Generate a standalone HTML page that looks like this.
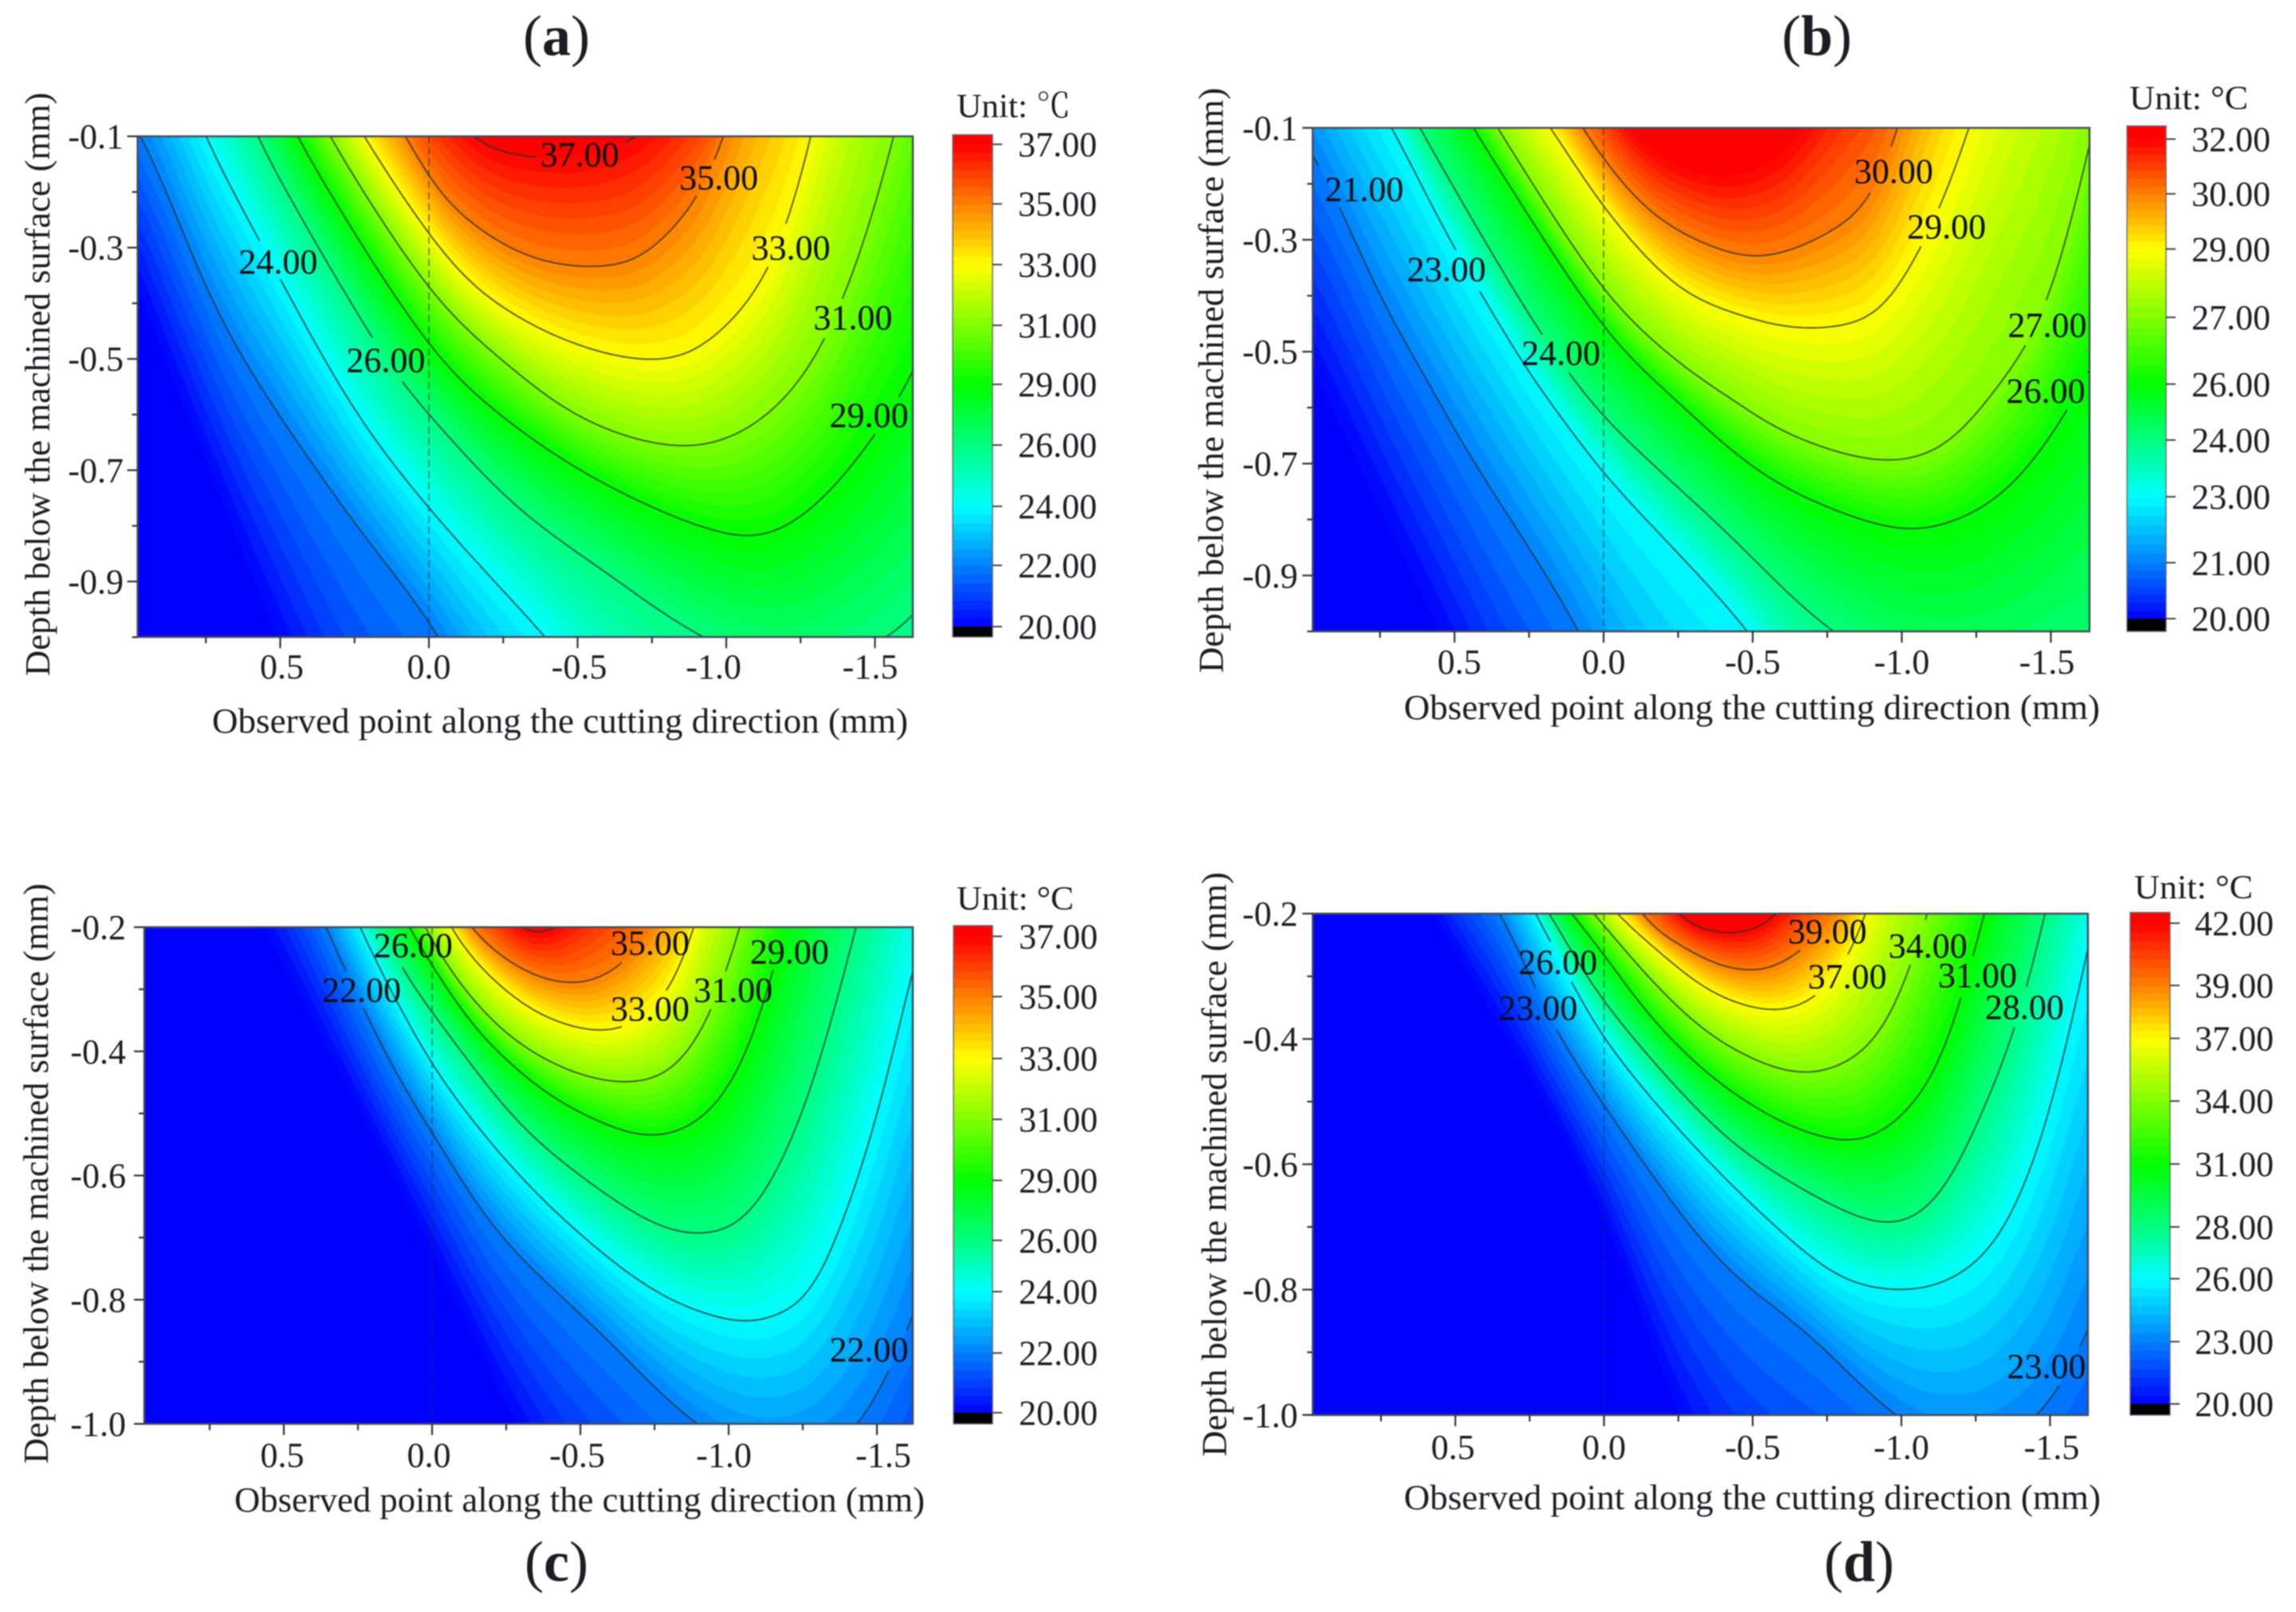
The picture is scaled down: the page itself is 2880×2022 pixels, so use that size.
<!DOCTYPE html>
<html lang="en">
<head>
<meta charset="utf-8">
<title>Temperature contour maps below the machined surface</title>
<style>
html,body{margin:0;padding:0;background:#fff;}
svg{display:block;filter:blur(0.7px);}
text{font-family:"Liberation Serif","Noto Serif CJK SC",serif;fill:#1c1c22;}
</style>
</head>
<body>
<svg id="chart" xmlns="http://www.w3.org/2000/svg" width="2880" height="2022" viewBox="0 0 2880 2022">
  <rect x="0" y="0" width="2880" height="2022" fill="#fff"/>
  <g id="plots"></g>

  <text x="698" y="69" font-size="72" text-anchor="middle">(<tspan font-weight="bold">a</tspan>)</text>
  <text x="2279" y="69" font-size="72" text-anchor="middle">(<tspan font-weight="bold">b</tspan>)</text>
  <text x="698" y="1983" font-size="72" text-anchor="middle">(<tspan font-weight="bold">c</tspan>)</text>
  <text x="2332" y="1983" font-size="72" text-anchor="middle">(<tspan font-weight="bold">d</tspan>)</text>

  <text x="266" y="919" font-size="44" textLength="873" lengthAdjust="spacingAndGlyphs">Observed point along the cutting direction (mm)</text>
  <text x="1761" y="902" font-size="44" textLength="873" lengthAdjust="spacingAndGlyphs">Observed point along the cutting direction (mm)</text>
  <text x="294" y="1896" font-size="44" textLength="866" lengthAdjust="spacingAndGlyphs">Observed point along the cutting direction (mm)</text>
  <text x="1761" y="1893" font-size="44" textLength="874" lengthAdjust="spacingAndGlyphs">Observed point along the cutting direction (mm)</text>

  <text transform="translate(62,848) rotate(-90)" font-size="44" textLength="732" lengthAdjust="spacingAndGlyphs">Depth below the machined surface (mm)</text>
  <text transform="translate(1534,844) rotate(-90)" font-size="44" textLength="734" lengthAdjust="spacingAndGlyphs">Depth below the machined surface (mm)</text>
  <text transform="translate(60,1836) rotate(-90)" font-size="44" textLength="728" lengthAdjust="spacingAndGlyphs">Depth below the machined surface (mm)</text>
  <text transform="translate(1538,1827) rotate(-90)" font-size="44" textLength="733" lengthAdjust="spacingAndGlyphs">Depth below the machined surface (mm)</text>

  <text x="1200" y="147" font-size="42" textLength="143" lengthAdjust="spacingAndGlyphs">Unit: ℃</text>
  <text x="2671" y="137" font-size="42" textLength="149" lengthAdjust="spacingAndGlyphs">Unit: °C</text>
  <text x="1200" y="1141" font-size="42" textLength="147" lengthAdjust="spacingAndGlyphs">Unit: °C</text>
  <text x="2677" y="1127" font-size="42" textLength="149" lengthAdjust="spacingAndGlyphs">Unit: °C</text>
</svg>

<script>
// ---- Contour data: [observed point (mm), depth (mm)], level 0 (pure blue edge) to level 8 (pure red edge)
const aK0=[[1.1,-.2],[.975,-.38],[.507,-1],[0,-1.6],[-1.7,-2.2]];
const aK1=[[1.02,-.05],[.938,-.127],[.704,-.425],[.335,-.732],[0,-.969],[-.034,-1],[-.5,-1.4],[-1,-1.7],[-1.7,-1.7]];
const aK2=[[.852,.03],[.754,-.1],[.581,-.276],[.261,-.583],[0,-.768],[-.392,-1],[-.8,-1.25],[-1.2,-1.35],[-1.7,-1.3]];
const aK3=[[.68,.03],[.581,-.1],[.145,-.502],[0,-.6],[-.281,-.759],[-.601,-.886],[-.921,-1],[-1.229,-1.057],[-1.549,-1],[-1.628,-.965],[-1.709,-.908]];
const aK4=[[.557,.03],[.446,-.1],[0,-.474],[-.281,-.618],[-.65,-.741],[-1.044,-.82],[-1.217,-.798],[-1.389,-.715],[-1.512,-.627],[-1.628,-.531],[-1.709,-.425]];
const aK5=[[.458,.03],[.335,-.1],[0,-.373],[-.232,-.496],[-.527,-.61],[-.872,-.658],[-1.118,-.61],[-1.315,-.487],[-1.463,-.294],[-1.567,-.1],[-1.623,.03]];
const aK6=[[.36,.03],[.219,-.1],[0,-.276],[-.158,-.373],[-.429,-.46],[-.724,-.502],[-.921,-.478],[-1.143,-.346],[-1.241,-.206],[-1.291,-.1],[-1.34,.03]];
const aK7=[[.2,.013],[.076,-.1],[0,-.18],[-.158,-.263],[-.355,-.32],[-.566,-.335],[-.724,-.316],[-.847,-.25],[-.946,-.18],[-1,-.1],[-1.057,.013]];
const aK8=[[-.04,-.04],[-.133,-.1],[-.232,-.127],[-.355,-.138],[-.5,-.138],[-.62,-.12],[-.72,-.1],[-.8,-.05]];

const bK0=[[1.2,-.3],[.98,-.526],[.55,-1],[0,-1.6],[-1.7,-2.2]];
const bK1=[[1.1,-.05],[.97,-.147],[.888,-.237],[.735,-.418],[.581,-.56],[.489,-.651],[.081,-1],[-.4,-1.5],[-1.7,-1.9]];
const bK2=[[.85,.03],[.709,-.1],[.5,-.318],[.428,-.38],[.264,-.527],[.09,-.655],[0,-.718],[-.485,-1],[-.9,-1.3],[-1.7,-1.4]];
const bK3=[[.75,.03],[.617,-.1],[.366,-.332],[.208,-.47],[.126,-.532],[0,-.617],[-.387,-.81],[-.768,-1],[-1.175,-1.11],[-1.63,-1.08]];
const bK4=[[.58,.03],[.438,-.1],[0,-.456],[-.237,-.584],[-.51,-.71],[-.756,-.779],[-1.039,-.819],[-1.273,-.779],[-1.42,-.71],[-1.557,-.605],[-1.63,-.535],[-1.717,-.44]];
const bK5=[[.5,.03],[.356,-.1],[0,-.389],[-.237,-.513],[-.442,-.589],[-.614,-.646],[-.929,-.695],[-1.15,-.666],[-1.347,-.544],[-1.495,-.413],[-1.63,-.133],[-1.667,-.046]];
const bK6=[[.35,.03],[.177,-.1],[0,-.242],[-.237,-.38],[-.442,-.432],[-.682,-.459],[-.929,-.43],[-1.027,-.352],[-1.15,-.22],[-1.229,-.1],[-1.298,.024]];
const bK7=[[.2,.02],[.075,-.1],[0,-.156],[-.135,-.242],[-.34,-.308],[-.547,-.331],[-.83,-.264],[-.929,-.203],[-.995,-.1],[-1.052,.024]];
const bK8=[[0,-.03],[-.067,-.1],[-.239,-.168],[-.411,-.19],[-.584,-.159],[-.682,-.1],[-.75,-.03]];

const cK0=[[.7,-.1],[.569,-.2],[0,-.72],[-.285,-1],[-.6,-1.25],[-1.1,-1.4],[-1.7,-1.3]];
const cK1=[[.434,-.115],[.36,-.2],[.3,-.26],[.234,-.329],[.113,-.444],[0,-.53],[-.207,-.684],[-.569,-.854],[-.891,-1],[-1.17,-1.06],[-1.448,-1],[-1.626,-.822],[-1.66,-.78]];
const cK2=[[.32,-.115],[.247,-.2],[.113,-.325],[0,-.423],[-.234,-.568],[-.474,-.684],[-.767,-.791],[-1.04,-.837],[-1.163,-.826],[-1.312,-.774],[-1.374,-.684],[-1.502,-.513],[-1.622,-.256],[-1.702,-.128]];
const cK3=[[.26,-.115],[.174,-.2],[.12,-.256],[0,-.337],[-.287,-.513],[-.567,-.624],[-.768,-.682],[-.912,-.695],[-1.075,-.663],[-1.235,-.521],[-1.342,-.363],[-1.429,-.2],[-1.475,-.115]];
const cK4=[[.167,-.115],[.084,-.2],[0,-.26],[-.127,-.354],[-.367,-.461],[-.581,-.517],[-.741,-.538],[-.901,-.513],[-1.035,-.436],[-1.128,-.32],[-1.155,-.269],[-1.188,-.2],[-1.235,-.115]];
const cK5=[[.113,-.115],[.027,-.2],[-.033,-.252],[-.207,-.354],[-.421,-.423],[-.654,-.451],[-.834,-.423],[-.955,-.329],[-1.001,-.269],[-1.041,-.2],[-1.088,-.115]];
const cK6=[[.033,-.106],[-.053,-.2],[-.207,-.286],[-.367,-.342],[-.561,-.369],[-.661,-.361],[-.728,-.342],[-.821,-.295],[-.854,-.256],[-.895,-.2],[-.941,-.106]];
const cK7=[[-.02,-.119],[-.127,-.203],[-.26,-.256],[-.367,-.283],[-.474,-.292],[-.581,-.282],[-.661,-.252],[-.714,-.226],[-.754,-.2],[-.834,-.119]];
const cK8=[[-.2,-.15],[-.26,-.2],[-.367,-.213],[-.447,-.2],[-.53,-.15]];

const dK0=[[.7,-.1],[.574,-.2],[0,-.68],[-.251,-1],[-.6,-1.25],[-1.7,-1.4]];
const dK1=[[.45,-.13],[.34,-.2],[.233,-.32],[.167,-.383],[0,-.506],[-.273,-.689],[-.436,-.776],[-.682,-.869],[-.978,-1],[-1.2,-1.05],[-1.47,-1],[-1.628,-.869],[-1.7,-.78]];
const dK2=[[.3,-.137],[.233,-.2],[.18,-.239],[.12,-.303],[0,-.4],[-.26,-.549],[-.553,-.689],[-.805,-.783],[-1.052,-.8],[-1.224,-.768],[-1.367,-.689],[-1.527,-.477],[-1.62,-.264],[-1.667,-.17]];
const dK3=[[.27,-.137],[.18,-.2],[.087,-.281],[0,-.341],[-.193,-.451],[-.42,-.561],[-.66,-.638],[-.86,-.686],[-.928,-.695],[-1.06,-.684],[-1.193,-.604],[-1.313,-.468],[-1.407,-.366],[-1.44,-.294],[-1.48,-.2],[-1.513,-.137]];
const dK4=[[.207,-.137],[.111,-.2],[0,-.264],[-.127,-.349],[-.327,-.447],[-.527,-.515],[-.68,-.549],[-.807,-.564],[-.9,-.558],[-1.007,-.523],[-1.14,-.434],[-1.213,-.328],[-1.273,-.2],[-1.313,-.137]];
const dK5=[[.153,-.137],[.033,-.2],[-.127,-.29],[-.327,-.383],[-.527,-.438],[-.68,-.456],[-.82,-.438],[-.927,-.396],[-.993,-.341],[-1.04,-.281],[-1.087,-.2],[-1.127,-.137]];
const dK6=[[.073,-.137],[-.04,-.2],[-.193,-.264],[-.353,-.324],[-.553,-.356],[-.66,-.349],[-.733,-.328],[-.827,-.273],[-.893,-.2],[-.927,-.137]];
const dK7=[[-.03,-.12],[-.107,-.2],[-.233,-.243],[-.353,-.277],[-.487,-.293],[-.593,-.284],[-.673,-.256],[-.74,-.226],[-.793,-.2],[-.86,-.12]];
const dK8=[[-.17,-.15],[-.22,-.2],[-.34,-.226],[-.433,-.235],[-.527,-.222],[-.607,-.2],[-.66,-.15]];

// ---- Contour labels: [text, level, observed point, depth]
const aContourLabels=[["37.00",8,-.507,-.132],["35.00",7,-.975,-.174],["33.00",6,-1.217,-.3],["31.00",5,-1.426,-.425],["29.00",4,-1.48,-.601],["24.00",2,.507,-.325],["26.00",3,.145,-.502]];
const bContourLabels=[["21.00",1,.803,-.209],["23.00",2,.527,-.352],["24.00",3,.143,-.502],["30.00",7,-.973,-.177],["29.00",6,-1.15,-.276],["27.00",5,-1.488,-.452],["26.00",4,-1.483,-.57]];
const cContourLabels=[["26.00",3,.064,-.229],["22.00",1,.238,-.301],["35.00",7,-.735,-.225],["29.00",4,-1.205,-.239],["31.00",5,-1.015,-.301],["33.00",6,-.735,-.331],["22.00",1,-1.473,-.88]];
const dContourLabels=[["39.00",7,-.751,-.228],["34.00",5,-1.089,-.251],["26.00",2,.155,-.277],["37.00",6,-.818,-.3],["31.00",4,-1.256,-.298],["23.00",1,.222,-.35],["28.00",3,-1.414,-.349],["23.00",1,-1.488,-.922]];

// ---- Axis ticks
const xMajorTicks=[.5,0,-.5,-1,-1.5];
const xMinorTicks=[.75,.25,-.25,-.75,-1.25];
const xTickLabels=["0.5","0.0","-0.5","-1.0","-1.5"];
const yMajorTicksTop1=[-.1,-.3,-.5,-.7,-.9];
const yMinorTicksTop1=[-.2,-.4,-.6,-.8,-1];
const yTickLabelsTop1=["-0.1","-0.3","-0.5","-0.7","-0.9"];
const yMajorTicksTop2=[-.2,-.4,-.6,-.8,-1];
const yMinorTicksTop2=[-.3,-.5,-.7,-.9];
const yTickLabelsTop2=["-0.2","-0.4","-0.6","-0.8","-1.0"];

// ---- Colorbar ticks (values, then printed labels)
const aBarValues=[20,22.16,24.24,26.4,28.54,30.62,32.76,34.9,37];
const aBarLabels=["20.00","22.00","24.00","26.00","29.00","31.00","33.00","35.00","37.00"];
const bBarValues=[20,21.4,23.05,24.47,25.87,27.54,29.25,30.63,32];
const bBarLabels=["20.00","21.00","23.00","24.00","26.00","27.00","29.00","30.00","32.00"];
const cBarValues=[20,22.13,24.32,26.15,28.29,30.47,32.64,34.85,37];
const cBarLabels=["20.00","22.00","24.00","26.00","29.00","31.00","33.00","35.00","37.00"];
const dBarValues=[20,22.85,25.73,28.1,30.98,33.86,36.73,39.15,42];
const dBarLabels=["20.00","23.00","26.00","28.00","31.00","34.00","37.00","39.00","42.00"];

// ---- Layout (not data)
const panels=[
 {id:"a",levels:[aK0,aK1,aK2,aK3,aK4,aK5,aK6,aK7,aK8],lineFrom:1,lineTo:8,labels:aContourLabels,
  x0:538,ux:373,yTopVal:-.1,yTop:171,uy:698,left:172.6,right:1145,bottom:799,xShift:[2,0,2,-16,-6],
  yMajor:yMajorTicksTop1,yMinor:yMinorTicksTop1,yLabels:yTickLabelsTop1,yLabelRight:155,xLabelBase:851,
  barL:1195,barR:1245,barTop:169,barBottom:799,barY20:786,barY1:181,barVals:aBarValues,barLabels:aBarLabels,barText:1277},
 {id:"b",levels:[bK0,bK1,bK2,bK3,bK4,bK5,bK6,bK7,bK8],lineFrom:1,lineTo:7,labels:bContourLabels,
  x0:2011.5,ux:374,yTopVal:-.1,yTop:160.4,uy:701.8,left:1646.6,right:2621,bottom:792,xShift:[6,0,0,0,-5],
  yMajor:yMajorTicksTop1,yMinor:yMinorTicksTop1,yLabels:yTickLabelsTop1,yLabelRight:1628,xLabelBase:845,
  barL:2668,barR:2717,barTop:158,barBottom:792,barY20:776,barY1:174.5,barVals:bBarValues,barLabels:bBarLabels,barText:2749},
 {id:"c",levels:[cK0,cK1,cK2,cK3,cK4,cK5,cK6,cK7,cK8],lineFrom:1,lineTo:8,labels:cContourLabels,
  x0:542,ux:372,yTopVal:-.2,yTop:1163,uy:778.75,left:181,right:1145,bottom:1786,xShift:[-2,-4,-4,-6,8],
  yMajor:yMajorTicksTop2,yMinor:yMinorTicksTop2,yLabels:yTickLabelsTop2,yLabelRight:158,xLabelBase:1840,
  barL:1196,barR:1245,barTop:1161,barBottom:1786,barY20:1772,barY1:1174.5,barVals:cBarValues,barLabels:cBarLabels,barText:1278},
 {id:"d",levels:[dK0,dK1,dK2,dK3,dK4,dK5,dK6,dK7,dK8],lineFrom:1,lineTo:8,labels:dContourLabels,
  x0:2012,ux:373,yTopVal:-.2,yTop:1146,uy:786,left:1646.6,right:2619,bottom:1775,xShift:[-3,0,0,0,2],
  yMajor:yMajorTicksTop2,yMinor:yMinorTicksTop2,yLabels:yTickLabelsTop2,yLabelRight:1628,xLabelBase:1830,
  barL:2672,barR:2722,barTop:1144.5,barBottom:1775,barY20:1761,barY1:1158,barVals:dBarValues,barLabels:dBarLabels,barText:2753}
];

const NS="http://www.w3.org/2000/svg";
const SUB=7;
const STEP=.01;
const SMOOTH=7;
const PAD=30;
function make(tag,attrs,parent){
  const el=document.createElementNS(NS,tag);
  for(const k in attrs){el.setAttribute(k,attrs[k]);}
  parent.appendChild(el);
  return el;
}
function jet(t){
  const s=[[0,0,0,255],[.25,0,255,255],[.5,0,255,0],[.75,255,255,0],[1,255,0,0]];
  t=Math.max(0,Math.min(1,t));
  for(let i=0;i<4;i++){
    if(t<=s[i+1][0]){
      const f=(t-s[i][0])/(s[i+1][0]-s[i][0]);
      const c=[1,2,3].map(j=>Math.round(s[i][j]+f*(s[i+1][j]-s[i][j])));
      return "rgb("+c.join(",")+")";
    }
  }
  return "rgb(255,0,0)";
}
function curveFn(pts){
  const us=pts.map(p=>-p[0]),ds=pts.map(p=>p[1]),n=pts.length,m=[];
  for(let i=0;i<n;i++){
    if(i===0){m.push((ds[1]-ds[0])/(us[1]-us[0]));}
    else if(i===n-1){m.push((ds[n-1]-ds[n-2])/(us[n-1]-us[n-2]));}
    else{m.push((ds[i+1]-ds[i-1])/(us[i+1]-us[i-1]));}
  }
  return function(x){
    const u=-x;
    let v;
    if(u<=us[0]){v=ds[0]+m[0]*(u-us[0]);}
    else if(u>=us[n-1]){v=ds[n-1]+m[n-1]*(u-us[n-1]);}
    else{
      let i=0;
      while(us[i+1]<u){i++;}
      const h=us[i+1]-us[i],s=(u-us[i])/h;
      const s2=s*s,s3=s2*s;
      v=(2*s3-3*s2+1)*ds[i]+(s3-2*s2+s)*h*m[i]+(-2*s3+3*s2)*ds[i+1]+(s3-s2)*h*m[i+1];
    }
    return Math.max(-4,Math.min(2,v));
  };
}
function boxSmooth(arr,r){
  const out=[];
  for(let i=0;i<arr.length;i++){
    const a=Math.max(0,i-r),b=Math.min(arr.length-1,i+r);
    let sum=0;
    for(let j=a;j<=b;j++){sum+=arr[j];}
    out.push(sum/(b-a+1));
  }
  return out;
}

const root=document.getElementById("plots");
const defs=make("defs",{},root);

panels.forEach(function(p){
  const sx=function(x){return p.x0-x*p.ux;};
  const sy=function(d){return p.yTop+(p.yTopVal-d)*p.uy;};
  const xLeft=(p.x0-p.left)/p.ux, xRight=(p.x0-p.right)/p.ux;
  const clip=make("clipPath",{id:"clip-"+p.id},defs);
  make("rect",{x:p.left,y:p.yTop,width:p.right-p.left,height:p.bottom-p.yTop},clip);

  const g=make("g",{},root);
  
  
  const plot=make("g",{"clip-path":"url(#clip-"+p.id+")"},g);
  
  

  const base=make("rect",{x:p.left,y:p.yTop,width:p.right-p.left,height:p.bottom-p.yTop,fill:"rgb(0,0,255)"},plot);
  
  

  const fns=p.levels.map(curveFn);
  // sample wider than the frame, smooth, then keep the visible range
  const wide=[];
  for(let x=xLeft+STEP+PAD*STEP;x>=xRight-STEP-PAD*STEP;x-=STEP){wide.push(x);}
  const xs=wide.slice(PAD,wide.length-PAD);
  const table=fns.map(function(f){
    const raw=wide.map(f);
    return boxSmooth(boxSmooth(raw,SMOOTH),SMOOTH).slice(PAD,wide.length-PAD);
  });

  // filled bands, painted from coolest to hottest
  for(let k=0;k<8;k++){
    for(let j=0;j<SUB;j++){
      const f=j/SUB;
      let dStr="M"+xs.map(function(x,i){
        const d=table[k][i]+f*(table[k+1][i]-table[k][i]);
        return sx(x).toFixed(1)+" "+sy(d).toFixed(1);
      }).join("L");
      dStr+="L"+(p.right+20)+" "+(p.yTop-3000)+"L"+(p.left-20)+" "+(p.yTop-3000)+"Z";
      const band=make("path",{d:dStr,fill:jet((k+(j+.5)/SUB)/8)},plot);
      
      
    }
  }
  const hot=make("path",{d:"M"+xs.map(function(x,i){return sx(x).toFixed(1)+" "+sy(table[8][i]).toFixed(1);}).join("L")+"L"+(p.right+20)+" "+(p.yTop-3000)+"L"+(p.left-20)+" "+(p.yTop-3000)+"Z",fill:"rgb(255,0,0)"},plot);
  
  

  // contour lines, broken where their own label sits
  for(let k=p.lineFrom;k<=p.lineTo;k++){
    const boxes=p.labels.filter(function(l){return l[1]===k;}).map(function(l){return [sx(l[2]),sy(l[3])];});
    let dStr="",pen=false;
    xs.forEach(function(x,i){
      const px=sx(x),py=sy(table[k][i]);
      const hidden=boxes.some(function(b){return Math.abs(px-b[0])<54&&Math.abs(py-b[1])<22;});
      if(hidden){pen=false;return;}
      dStr+=(pen?"L":"M")+px.toFixed(1)+" "+py.toFixed(1);
      pen=true;
    });
    const line=make("path",{d:dStr,fill:"none",stroke:"#24302c","stroke-width":1.8,"stroke-opacity":.8},plot);
    
    
  }

  // reference line at x = 0
  const zero=make("line",{x1:sx(0),x2:sx(0),y1:p.yTop,y2:p.bottom,stroke:"#1c2a3a","stroke-width":1.6,"stroke-opacity":.6,"stroke-dasharray":"9 5"},plot);
  
  

  // frame
  const frame=make("rect",{x:p.left,y:p.yTop,width:p.right-p.left,height:p.bottom-p.yTop,fill:"none",stroke:"#454a55","stroke-width":2.4},g);
  
  

  // x ticks
  xMajorTicks.forEach(function(v,i){
    const t=make("line",{x1:sx(v),x2:sx(v),y1:p.bottom,y2:p.bottom+14,stroke:"#333","stroke-width":2.2},g);
    
    
    const lab=make("text",{x:sx(v)+p.xShift[i],y:p.xLabelBase,"font-size":44,"text-anchor":"middle"},g);
    lab.textContent=xTickLabels[i];
    
    
  });
  xMinorTicks.forEach(function(v){
    const t=make("line",{x1:sx(v),x2:sx(v),y1:p.bottom,y2:p.bottom+8,stroke:"#333","stroke-width":2.2},g);
    
    
  });

  // y ticks
  p.yMajor.forEach(function(v,i){
    const t=make("line",{x1:p.left-13,x2:p.left,y1:sy(v),y2:sy(v),stroke:"#333","stroke-width":2.2},g);
    
    
    const lab=make("text",{x:p.yLabelRight,y:sy(v)+15,"font-size":44,"text-anchor":"end"},g);
    lab.textContent=p.yLabels[i];
    
    
  });
  p.yMinor.forEach(function(v){
    const t=make("line",{x1:p.left-7,x2:p.left,y1:sy(v),y2:sy(v),stroke:"#333","stroke-width":2.2},g);
    
    
  });

  // contour labels
  p.labels.forEach(function(l){
    const lab=make("text",{x:sx(l[2]),y:sy(l[3])+15,"font-size":44,"text-anchor":"middle",style:"fill:#0c0c12"},g);
    lab.textContent=l[0];
    
    
  });

  // colorbar
  const vMax=p.barVals[8];
  const cy=function(v){return p.barY20-(v-20)*(p.barY20-p.barY1)/(vMax-20);};
  const bar=make("g",{},g);
  
  
  const barTop=make("rect",{x:p.barL,y:p.barTop,width:p.barR-p.barL,height:p.barY1-p.barTop+1,fill:"rgb(255,0,0)"},bar);
  
  
  for(let i=0;i<8;i++){
    for(let j=0;j<SUB;j++){
      const v1=p.barVals[i]+(p.barVals[i+1]-p.barVals[i])*j/SUB;
      const v2=p.barVals[i]+(p.barVals[i+1]-p.barVals[i])*(j+1)/SUB;
      const seg=make("rect",{x:p.barL,y:cy(v2),width:p.barR-p.barL,height:cy(v1)-cy(v2)+.6,fill:jet((i+(j+.5)/SUB)/8)},bar);
      
      
    }
  }
  const under=make("rect",{x:p.barL,y:p.barY20,width:p.barR-p.barL,height:p.barBottom-p.barY20,fill:"#000"},bar);
  
  
  const bf=make("rect",{x:p.barL,y:p.barTop,width:p.barR-p.barL,height:p.barBottom-p.barTop,fill:"none",stroke:"#6a6a70","stroke-width":1.4},bar);
  
  
  p.barVals.forEach(function(v,i){
    const t=make("line",{x1:p.barR,x2:p.barR+12,y1:cy(v),y2:cy(v),stroke:"#444","stroke-width":2},bar);
    
    
    const lab=make("text",{x:p.barText,y:cy(v)+15,"font-size":44},bar);
    lab.textContent=p.barLabels[i];
    
    
  });
});
</script>
</body>
</html>
